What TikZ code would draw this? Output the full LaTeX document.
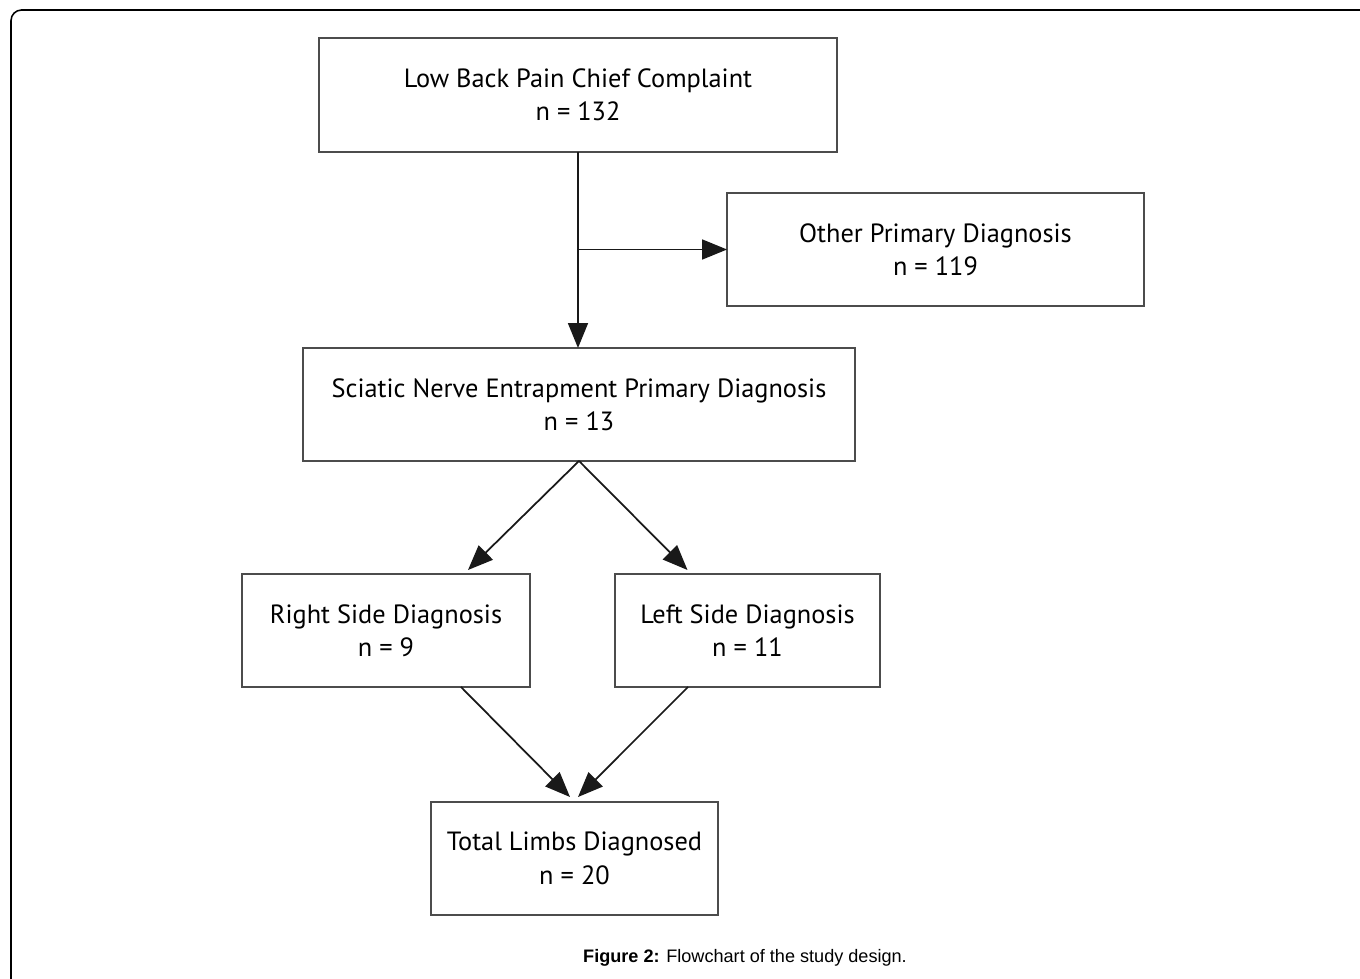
\documentclass[tikz,border=0pt]{standalone}
\usepackage{fontspec}
\setmainfont{PT Sans}
\newfontfamily\capfont{Liberation Sans}
\usetikzlibrary{arrows.meta, positioning, calc}

\tikzset{
  stepbox/.style={draw=black!70, line width=1.1pt, align=center, inner sep=0pt,
    font=\fontsize{15}{19}\selectfont},
  flowarrow/.style={draw=black!90, line width=1pt,
    -{Triangle[length=0.5cm, width=0.4cm]}}
}

\begin{document}
\begin{tikzpicture}[x=0.02cm, y=-0.02cm, every node/.style={outer sep=0pt}]
    \useasboundingbox (0,0) rectangle (1360,979);

    % Frame
    \draw[line width=0.9pt, rounded corners=6pt] (11,979) -- (11,10) -- (1360,10);

    % Boxes
    \node[stepbox, minimum width=10.36cm, minimum height=2.28cm] (lbp) at (578,95)
        {Low Back Pain Chief Complaint\\n = 132};
    \node[stepbox, minimum width=8.34cm, minimum height=2.26cm] (other) at (935.5,249.5)
        {Other Primary Diagnosis\\n = 119};
    \node[stepbox, minimum width=11.04cm, minimum height=2.26cm] (sciatic) at (579,404.5)
        {Sciatic Nerve Entrapment Primary Diagnosis\\n = 13};
    \node[stepbox, minimum width=5.76cm, minimum height=2.26cm] (right) at (386,630.5)
        {Right Side Diagnosis\\n = 9};
    \node[stepbox, minimum width=5.3cm, minimum height=2.26cm] (left) at (747.5,630.5)
        {Left Side Diagnosis\\n = 11};
    \node[stepbox, minimum width=5.74cm, minimum height=2.26cm] (total) at (574.5,858.5)
        {Total Limbs Diagnosed\\n = 20};

    % Arrows
    \draw[flowarrow] (lbp.south) -- (lbp.south |- sciatic.north);
    \draw[flowarrow] (lbp.south |- other.west) -- (other.west);
    \draw[flowarrow] (sciatic.south) -- ($(right.north)+(82,-4)$);
    \draw[flowarrow] (sciatic.south) -- ($(left.north)+(-60,-4)$);
    \draw[flowarrow] ($(right.south)+(75,0)$) -- ($(total.north)+(-4.5,-5)$);
    \draw[flowarrow] ($(left.south)+(-59.5,0)$) -- ($(total.north)+(3.5,-5)$);

    % Caption
    \node[font=\capfont\fontsize{10.3}{13}\selectfont] (caption) at (745,958)
        {\textbf{Figure 2:} Flowchart of the study design.};
\end{tikzpicture}
\end{document}
